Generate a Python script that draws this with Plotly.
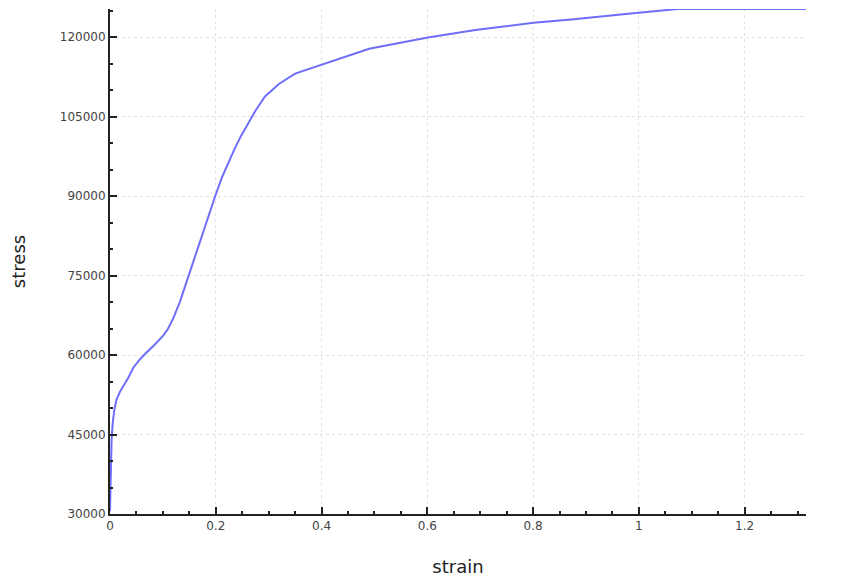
import plotly.graph_objects as go

strain = [0, 0.001, 0.002, 0.003, 0.005, 0.008, 0.012, 0.019, 0.034, 0.044, 0.055,
          0.066, 0.083, 0.101, 0.110, 0.120, 0.132, 0.148, 0.160, 0.175, 0.189,
          0.200, 0.212, 0.225, 0.236, 0.248, 0.260, 0.275, 0.293, 0.320, 0.350,
          0.420, 0.490, 0.601, 0.694, 0.801, 0.872, 0.980, 1.073, 1.316]
stress = [30500, 36000, 40000, 44000, 47000, 49500, 51500, 53100, 55600, 57600, 59000,
          60200, 61800, 63700, 65000, 67000, 70000, 74800, 78500, 83000, 87200,
          90300, 93600, 96600, 99000, 101400, 103500, 106100, 108800, 111200, 113100,
          115400, 117800, 119900, 121400, 122700, 123300, 124400, 125300, 125300]

x_ticks = [0, 0.2, 0.4, 0.6, 0.8, 1, 1.2]
x_ticklabels = ["0", "0.2", "0.4", "0.6", "0.8", "1", "1.2"]
y_ticks = [30000, 45000, 60000, 75000, 90000, 105000, 120000]
y_ticklabels = ["30000", "45000", "60000", "75000", "90000", "105000", "120000"]

fig = go.Figure()
fig.add_trace(go.Scatter(x=strain, y=stress, mode="lines",
                         line=dict(color="rgb(110,110,250)", width=2),
                         showlegend=False))

axis_common = dict(
    showline=True, linecolor="#222", linewidth=2,
    ticks="inside", ticklen=7, tickwidth=2, tickcolor="#222",
    showgrid=True, gridcolor="#e2e2e2", griddash="dot", gridwidth=1,
    zeroline=False, mirror=False,
    tickfont=dict(family="DejaVu Sans", size=12, color="#444"),
    minor=dict(ticks="inside", ticklen=3, tickwidth=2, tickcolor="#222", showgrid=False),
)

fig.update_xaxes(range=[0, 1.316], tickvals=x_ticks, ticktext=x_ticklabels,
                 title=dict(text="strain", font=dict(family="DejaVu Sans", size=18, color="#222"), standoff=30),
                 **axis_common)
fig.update_xaxes(minor=dict(dtick=0.05, tick0=0))
fig.update_yaxes(range=[30000, 125300], tickvals=y_ticks, ticktext=y_ticklabels,
                 title=dict(text="stress", font=dict(family="DejaVu Sans", size=18, color="#222"), standoff=30),
                 **axis_common)
fig.update_yaxes(minor=dict(dtick=5000, tick0=0))

fig.update_layout(
    width=827, height=569,
    margin=dict(l=102, r=29, t=1, b=61),
    plot_bgcolor="white", paper_bgcolor="white",
)

fig.write_html("out.html")
